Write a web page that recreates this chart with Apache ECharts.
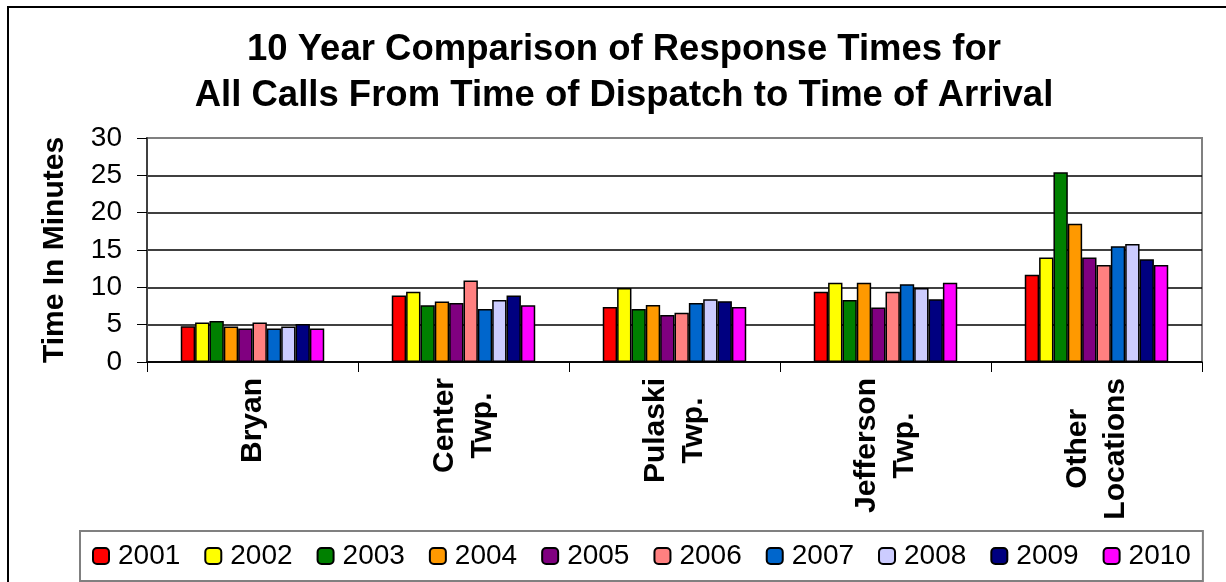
<!DOCTYPE html>
<html>
<head>
<meta charset="utf-8">
<title>Response Times</title>
<script src="https://cdn.jsdelivr.net/npm/echarts@6/dist/echarts.min.js"></script>
<style>
    html, body { margin: 0; padding: 0; background: #fff; }
    #chart { width: 1226px; height: 582px; }
</style>
</head>
<body>
<div id="chart"></div>
<script>
const locations = ["Bryan", "Center\nTwp.", "Pulaski\nTwp.", "Jefferson\nTwp.", "Other\nLocations"];
const years = ["2001", "2002", "2003", "2004", "2005", "2006", "2007", "2008", "2009", "2010"];
const yearColors = ["#FF0000", "#FFFF00", "#008000", "#FF9900", "#800080", "#FF8080", "#0066CC", "#CCCCFF", "#000080", "#FF00FF"];

// minutes per location, one array per year
const y2001 = [4.8, 8.9, 7.35, 9.4, 11.7];
const y2002 = [5.3, 9.4, 9.9, 10.6, 14.0];
const y2003 = [5.5, 7.6, 7.1, 8.3, 25.4];
const y2004 = [4.75, 8.1, 7.65, 10.6, 18.5];
const y2005 = [4.5, 7.9, 6.3, 7.3, 14.0];
const y2006 = [5.3, 10.9, 6.6, 9.4, 13.0];
const y2007 = [4.5, 7.1, 7.9, 10.4, 15.5];
const y2008 = [4.75, 8.3, 8.4, 9.9, 15.8];
const y2009 = [5.1, 8.9, 8.15, 8.4, 13.75];
const y2010 = [4.5, 7.6, 7.35, 10.6, 13.0];
const yearValues = [y2001, y2002, y2003, y2004, y2005, y2006, y2007, y2008, y2009, y2010];

const FONT = "'Liberation Sans', Arial, sans-serif";

const chart = echarts.init(document.getElementById("chart"), null, { renderer: "canvas" });
chart.setOption({
    backgroundColor: "#fff",
    animation: false,
    title: {
        text: "10 Year Comparison of Response Times for\nAll Calls From Time of Dispatch to Time of Arrival",
        left: 624,
        top: 27,
        padding: 0,
        textAlign: "center",
        textStyle: {
            fontFamily: FONT,
            fontWeight: "bold",
            fontSize: 36.5,
            lineHeight: 46,
            color: "#000"
        }
    },
    graphic: [
        {
            type: "rect",
            z: -10,
            shape: { x: 8, y: 7, width: 1260, height: 640 },
            style: { fill: "none", stroke: "#000", lineWidth: 2 }
        }
    ],
    legend: {
        data: years,
        left: 80,
        top: 531,
        padding: [11, 12],
        itemWidth: 16,
        itemHeight: 16,
        itemGap: 24,
        borderColor: "#808080",
        borderWidth: 2,
        textStyle: {
            fontFamily: FONT,
            fontSize: 28,
            color: "#000",
            padding: [0, 0, 0, 4]
        }
    },
    grid: {
        left: 147,
        right: 24,
        top: 138,
        bottom: 220,
        show: true,
        borderColor: "#808080",
        borderWidth: 2
    },
    xAxis: {
        type: "category",
        data: locations,
        axisLine: { lineStyle: { color: "#000", width: 1.5 } },
        axisTick: { show: true, length: 10, lineStyle: { color: "#000", width: 1 } },
        axisLabel: {
            interval: 0,
            rotate: 90,
            margin: 16,
            formatter: v => v.split("\n").map(s => "{a|" + s + "}").join("\n"),
            rich: {
                a: {
                    align: "center",
                    fontFamily: FONT,
                    fontWeight: "bold",
                    fontSize: 30,
                    lineHeight: 38,
                    color: "#000"
                }
            }
        }
    },
    yAxis: {
        type: "value",
        min: 0,
        max: 30,
        interval: 5,
        name: "Time In Minutes",
        nameLocation: "middle",
        nameRotate: 90,
        nameGap: 77,
        nameTextStyle: {
            fontFamily: FONT,
            fontWeight: "bold",
            fontSize: 30,
            color: "#000"
        },
        axisLine: { show: true, lineStyle: { color: "#404040", width: 2 } },
        axisTick: { show: true, length: 10, lineStyle: { color: "#000", width: 1 } },
        axisLabel: {
            margin: 25,
            fontFamily: FONT,
            fontSize: 28,
            color: "#000"
        },
        splitLine: {
            show: true,
            showMaxLine: false,
            lineStyle: { color: "#000", width: 1.5 }
        }
    },
    series: years.map((year, i) => ({
        name: year,
        type: "bar",
        data: yearValues[i],
        barGap: "0%",
        barCategoryGap: "32%",
        itemStyle: {
            color: yearColors[i],
            borderColor: "#000",
            borderWidth: 1.5
        }
    }))
});
</script>
</body>
</html>
